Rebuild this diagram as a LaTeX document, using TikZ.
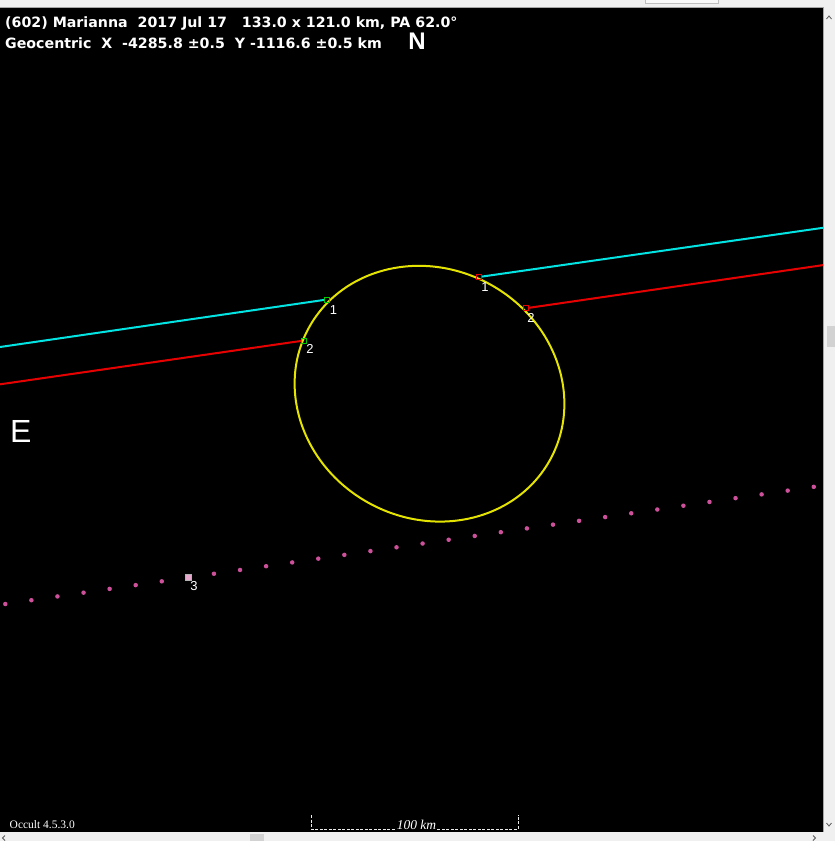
\documentclass[tikz,border=0pt]{standalone}
\usepackage{fontspec}
\setmainfont{Liberation Sans}
\newfontfamily\occultserif{Liberation Serif}
\newfontfamily\headfont{DejaVu Sans}
\usepackage{xcolor}
\usetikzlibrary{calc}
\definecolor{chordcyan}{RGB}{0,228,228}
\definecolor{chordred}{RGB}{232,0,0}
\definecolor{limbyellow}{RGB}{228,228,0}
\definecolor{pathpink}{RGB}{205,80,155}
\definecolor{framegray}{RGB}{240,240,240}

\begin{document}
\begin{tikzpicture}[x=1pt, y=-1pt, chord/.style={line width=2pt}, dis node/.style={draw=green!80!black, minimum size=5pt, inner sep=0pt, line width=0.8pt}, re node/.style={draw=chordred, minimum size=5pt, inner sep=0pt, line width=0.8pt}, num/.style={text=white, font=\fontsize{13}{13}\selectfont, inner sep=0pt, anchor=base}, dot/.style={circle, fill=pathpink, minimum size=4.5pt, inner sep=0pt}, head/.style={text=white, inner sep=0pt, anchor=base west, font=\headfont\bfseries\fontsize{14.2}{14.2}\selectfont}, arrowmark/.style={gray!70!black, line width=0.8pt}]
\useasboundingbox (0,0) rectangle (835,841);
% window frame
\fill[framegray] (0,0) rectangle (835,841);
\fill[black] (0,7) rectangle (823,832);
\draw[gray!70, line width=1pt] (0,7) -- (823,7) -- (823,832);
\draw[gray!50, fill=white!95!gray] (645,-1) rectangle (718,3);
\fill[gray!35] (827,326) rectangle (835,347);
\fill[gray!35] (250,834) rectangle (264,841);
\draw[arrowmark] (826.5,19) -- (829,16) -- (831.5,19);
\draw[arrowmark] (826.5,823) -- (829,826) -- (831.5,823);
\draw[arrowmark] (5,835.5) -- (2.5,838) -- (5,840.5);
\draw[arrowmark] (813,835.5) -- (815.5,838) -- (813,840.5);

% header
\node[head] (title) at (5,27) {(602) Marianna\ \ 2017 Jul 17\ \ \ 133.0 x 121.0 km, PA 62.0°};
\node[head] (geo) at (5,48) {Geocentric\ \ X\ \ -4285.8 ±0.5\ \ Y -1116.6 ±0.5 km};
\node[text=white, inner sep=0pt, anchor=base, font=\bfseries\fontsize{24}{24}\selectfont] (north) at (417,49) {N};
\node[text=white, inner sep=0pt, anchor=base west, font=\fontsize{32}{32}\selectfont] (east) at (10,442) {E};

% asteroid outline
\coordinate (c) at (429.5,393.7);
\draw[limbyellow, line width=2pt, rotate around={-28:(c)}] (c) ellipse [x radius=137.5, y radius=125];

% chords
\node[dis node] (d1) at (327,299.5) {};
\node[re node] (r1) at (479,277) {};
\node[dis node] (d2) at (304,340.5) {};
\node[re node] (r2) at (525.5,308.3) {};
\coordinate (w1) at (0,347);
\coordinate (e1) at (823,227.8);
\coordinate (w2) at (0,384.3);
\coordinate (e2) at (823,265.1);
\path[chord, chordcyan] (w1) edge (d1) (r1) edge (e1);
\path[chord, chordred] (w2) edge (d2) (r2) edge (e2);
\node[num] (l1) at (333.5,314) {1};
\node[num] (l2) at (485,291) {1};
\node[num] (l3) at (310,353.5) {2};
\node[num] (l4) at (531,322.5) {2};

% path of the star for observer 3
\foreach \k in {0,...,6,8,9,...,31} {\node[dot] (p\k) at ({5.3+26.08*\k},{604-3.78*\k}) {};}
\node[draw=gray!60, fill=pathpink!50!white, minimum size=6pt, inner sep=0pt] (p7) at (187.9,577.5) {};
\node[num] (l5) at (194,590) {3};

% scale bar
\node[text=white, inner sep=1pt, anchor=base, font=\occultserif\itshape\fontsize{13.5}{13.5}\selectfont] (km) at (416.5,829) {100 km};
\coordinate (s1) at (311,829);
\coordinate (s2) at (518,829);
\draw[white!85!gray, dash pattern=on 3pt off 1.5pt, line width=0.8pt] (s1) ++(0,-14) -- (s1) -- (km.base west) (km.base east) -- (s2) -- ++(0,-14);
\node[text=white, inner sep=0pt, anchor=base west, font=\occultserif\fontsize{11.5}{11.5}\selectfont] (ver) at (9.5,828) {Occult 4.5.3.0};
\end{tikzpicture}
\end{document}
